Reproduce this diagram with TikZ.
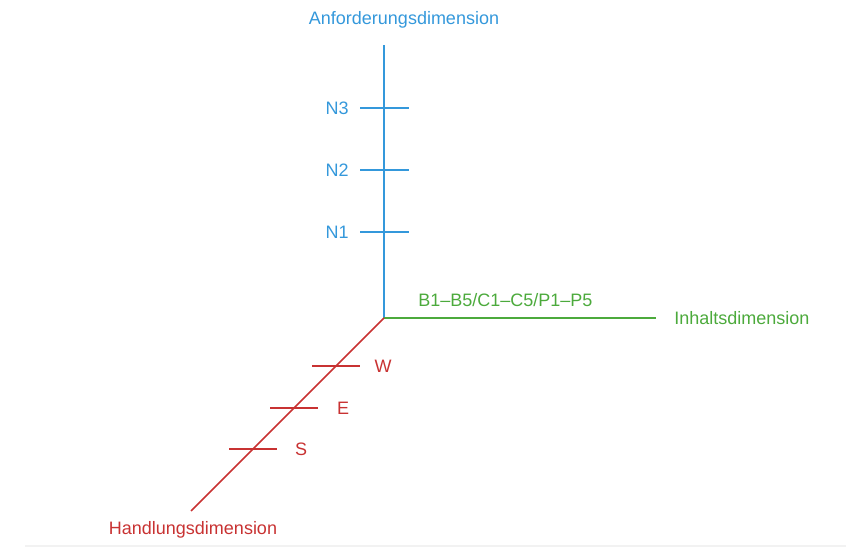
\documentclass[tikz,border=0pt]{standalone}
\usepackage{fontspec}
\setmainfont{Liberation Sans}
\definecolor{cblue}{RGB}{52,152,219}
\definecolor{cgreen}{RGB}{76,170,60}
\definecolor{cred}{RGB}{200,50,50}
\begin{document}
\begin{tikzpicture}[x=0.75pt,y=-0.75pt,
  axis/.style={line width=1.1pt},
  tick/.style={line width=0.8pt},
  lbl/.style={font=\fontsize{13.5}{15}\selectfont, inner sep=0pt}]
\useasboundingbox (0,0) rectangle (846,548);
\draw[gray!10, line width=1pt] (25,546) -- (846,546);
\coordinate (O) at (384,318);
\coordinate (T) at (384,45);
\coordinate (R) at (656,318);
\coordinate (L) at (191,511);
% axes
\draw[axis, cblue] (O) -- (T);
\draw[axis, cgreen] (O) -- (R);
\draw[axis, cred] (O) -- (L);
% blue ticks
\foreach \y/\t in {108/N3,170/N2,232/N1}{
  \coordinate (a\t) at (360,\y);
  \coordinate (b\t) at (409,\y);
  \draw[tick, cblue] (a\t) -- (b\t);
  \node[lbl, cblue, anchor=east] (l\t) at (349,\y) {\t};
}
% red ticks
\foreach \y/\t/\lx in {366/W/383,408/E/343,449/S/301}{
  \pgfmathsetmacro{\cx}{384-(\y-318)}
  \coordinate (a\t) at (\cx-24,\y);
  \coordinate (b\t) at (\cx+24,\y);
  \draw[tick, cred] (a\t) -- (b\t);
  \node[lbl, cred, anchor=center] (l\t) at (\lx,\y) {\t};
}
% labels
\node[lbl, cblue] (top) at (404,20) {Anforderungsdimension};
\node[lbl, cgreen, anchor=west] (rt) at (674,318) {Inhaltsdimension};
\node[lbl, cgreen, anchor=west] (mid) at (418,300) {B1–B5/C1–C5/P1–P5};
\node[lbl, cred] (bot) at (193,530) {Handlungsdimension};
\end{tikzpicture}
\end{document}
